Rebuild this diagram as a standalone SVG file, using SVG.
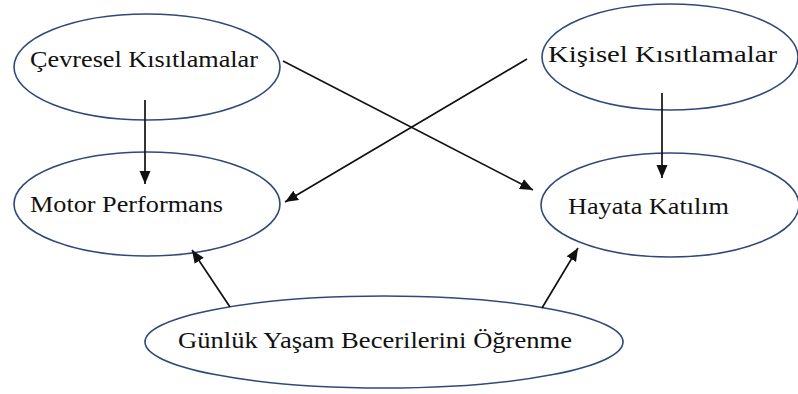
<svg xmlns="http://www.w3.org/2000/svg" width="798" height="394" viewBox="0 0 798 394">
<style>
.node ellipse{fill:#fff;stroke:#2f4a78;stroke-width:1.6}
.node text{font-family:"Liberation Serif","Times New Roman",Tinos,"Nimbus Roman","Nimbus Roman No9 L",FreeSerif,"Noto Serif","DejaVu Serif",Times,serif;font-size:23px;fill:#111}
.conn line{stroke:#111;stroke-width:1.7;fill:none}
</style>
<defs>
<marker id="ah" markerUnits="userSpaceOnUse" markerWidth="15" markerHeight="12" refX="13" refY="5.5" orient="auto">
<path d="M0,0 L13,5.5 L0,11 Z" fill="#111"/>
</marker>
</defs>
<rect width="798" height="394" fill="#fff"/>
<g id="n-cevresel" class="node">
<ellipse cx="147" cy="67" rx="133" ry="53"/>
<text x="30" y="67" textLength="228" lengthAdjust="spacingAndGlyphs">Çevresel Kısıtlamalar</text>
</g>
<g id="n-kisisel" class="node">
<ellipse cx="670" cy="57" rx="128" ry="53"/>
<text x="548" y="62" textLength="229" lengthAdjust="spacingAndGlyphs">Kişisel Kısıtlamalar</text>
</g>
<g id="n-motor" class="node">
<ellipse cx="147" cy="204" rx="133" ry="52"/>
<text x="30" y="212" textLength="193" lengthAdjust="spacingAndGlyphs">Motor Performans</text>
</g>
<g id="n-hayata" class="node">
<ellipse cx="670" cy="205" rx="129" ry="52"/>
<text x="568" y="214" textLength="161" lengthAdjust="spacingAndGlyphs">Hayata Katılım</text>
</g>
<g id="n-gunluk" class="node">
<ellipse cx="384" cy="342" rx="239" ry="46"/>
<text x="178" y="348" textLength="394" lengthAdjust="spacingAndGlyphs">Günlük Yaşam Becerilerini Öğrenme</text>
</g>
<g id="connectors" class="conn">
<line x1="145" y1="100" x2="145" y2="184" marker-end="url(#ah)"/>
<line x1="662" y1="93" x2="662" y2="178" marker-end="url(#ah)"/>
<line x1="283" y1="61" x2="533" y2="190" marker-end="url(#ah)"/>
<line x1="527" y1="59" x2="285" y2="202" marker-end="url(#ah)"/>
<line x1="230" y1="307" x2="192" y2="250" marker-end="url(#ah)"/>
<line x1="542" y1="308" x2="578" y2="248" marker-end="url(#ah)"/>
</g>
</svg>
